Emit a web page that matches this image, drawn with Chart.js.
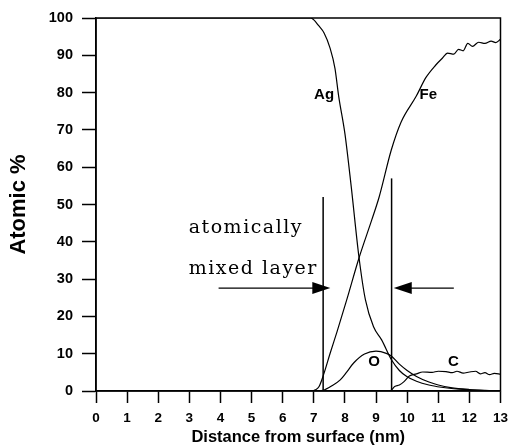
<!DOCTYPE html>
<html>
<head>
<meta charset="utf-8">
<script src="https://cdn.jsdelivr.net/npm/chart.js@4"></script>
<style>
  html, body { margin: 0; padding: 0; background: #fff; }
  #wrap { width: 515px; height: 447px; }
</style>
</head>
<body>
<div id="wrap"><canvas id="c" width="515" height="447"></canvas></div>
<script>
// depth profile (nm, atomic %)
const agX = [0, 1, 2, 3, 4, 5, 6, 6.9, 7.0, 7.15, 7.33, 7.52, 7.68, 7.8, 8.0, 8.2, 8.45, 8.66, 8.92, 9.18, 9.5, 9.75, 10.0, 10.3, 10.7, 11.1, 11.5, 12, 12.5, 13];
const agY = [100, 100, 100, 100, 100, 100, 100, 100, 99.5, 98, 96, 92, 86.5, 79, 69, 55, 36, 24.4, 17.2, 13.7, 8.3, 5.5, 3.8, 2.6, 1.6, 1.0, 0.6, 0.3, 0.1, 0];

const feX = [0, 1, 2, 3, 4, 5, 6, 6.95, 7.05, 7.17, 7.33, 7.52, 7.75, 8.06, 8.45, 8.86, 9.1, 9.49, 9.8, 10.29, 10.6, 10.92, 11.13, 11.3, 11.5, 11.65, 11.8, 11.95, 12.1, 12.3, 12.5, 12.7, 12.85, 13];
const feY = [0, 0, 0, 0, 0, 0, 0, 0, 0.3, 1.2, 4.8, 10, 16, 24.5, 35.6, 45.8, 52, 64.6, 72, 79, 84, 87.4, 89.2, 90.6, 90.3, 91.6, 91.2, 93.2, 92.4, 93.5, 93.2, 93.8, 93.4, 94.3];

const oX = [0, 1, 2, 3, 4, 5, 6, 7.0, 7.3, 7.6, 7.85, 8.05, 8.28, 8.63, 9.0, 9.33, 9.5, 9.75, 10.0, 10.3, 10.7, 11.0, 11.4, 12, 12.5, 13];
const oY = [0, 0, 0, 0, 0, 0, 0, 0, 0.2, 1.5, 3, 5, 7.5, 9.9, 10.7, 10.1, 9.3, 7.2, 5.5, 3.9, 2.4, 1.6, 0.9, 0.4, 0.2, 0.1];

const cX = [0, 1, 2, 3, 4, 5, 6, 7, 8, 9, 9.45, 9.5, 9.6, 9.75, 9.9, 10.07, 10.3, 10.5, 10.8, 11.0, 11.25, 11.45, 11.6, 11.8, 12.0, 12.2, 12.35, 12.5, 12.65, 12.8, 13];
const cY = [0, 0, 0, 0, 0, 0, 0, 0, 0, 0, 0, 0.3, 1.2, 1.6, 2.5, 4.0, 4.6, 5.1, 5.0, 5.3, 5.2, 4.9, 5.3, 4.8, 5.1, 5.3, 4.6, 4.9, 4.4, 4.7, 4.5];

// annotations (data coordinates)
const layerEdges = [7.3, 9.5];
const layerEdgeTops = [52, 57];
const arrowFrom = [3.94, 11.5];
const arrowTo = [7.53, 9.57];
const arrowLevel = 27.6;
const layerText = ["atomically", "mixed layer"];
const layerTextX = 2.98;
const layerTextY = [42.4, 31.4];
const seriesNames = ["Ag", "Fe", "O", "C"];
const nameX = [7.33, 10.68, 8.94, 11.49];
const nameY = [79.4, 79.4, 7.8, 7.8];

const pts = (xs, ys) => xs.map((x, i) => ({ x, y: ys[i] }));

const line = (label, xs, ys) => ({
  label,
  data: pts(xs, ys),
  borderColor: "#000",
  borderWidth: 1.2,
  pointRadius: 0,
  showLine: true,
  fill: false,
  cubicInterpolationMode: "monotone",
});

const annotations = {
  id: "annotations",
  afterDatasetsDraw(chart) {
    const { ctx, chartArea: a, scales: { x, y } } = chart;
    ctx.save();
    ctx.strokeStyle = "#000";
    ctx.fillStyle = "#000";

    // frame
    ctx.lineWidth = 1.5;
    ctx.strokeRect(a.left, a.top, a.right - a.left, a.bottom - a.top);

    // layer edges
    layerEdges.forEach((v, i) => {
      const px = x.getPixelForValue(v);
      ctx.beginPath();
      ctx.moveTo(px, y.getPixelForValue(0));
      ctx.lineTo(px, y.getPixelForValue(layerEdgeTops[i]));
      ctx.stroke();
    });

    // arrows
    const ay = y.getPixelForValue(arrowLevel);
    arrowFrom.forEach((v, i) => {
      const x0 = x.getPixelForValue(v);
      const x1 = x.getPixelForValue(arrowTo[i]);
      const dir = x1 > x0 ? 1 : -1;
      ctx.lineWidth = 1.2;
      ctx.beginPath();
      ctx.moveTo(x0, ay);
      ctx.lineTo(x1 - dir * 10, ay);
      ctx.stroke();
      ctx.beginPath();
      ctx.moveTo(x1, ay);
      ctx.lineTo(x1 - dir * 18, ay - 6);
      ctx.lineTo(x1 - dir * 18, ay + 6);
      ctx.closePath();
      ctx.fill();
    });

    // layer text
    ctx.font = '19px "DejaVu Serif"';
    ctx.letterSpacing = "1.5px";
    ctx.textAlign = "left";
    ctx.textBaseline = "alphabetic";
    layerText.forEach((t, i) => {
      ctx.fillText(t, x.getPixelForValue(layerTextX), y.getPixelForValue(layerTextY[i]));
    });

    // series names
    ctx.letterSpacing = "0px";
    ctx.font = 'bold 15px "Liberation Sans"';
    ctx.textAlign = "center";
    ctx.textBaseline = "middle";
    seriesNames.forEach((t, i) => {
      ctx.fillText(t, x.getPixelForValue(nameX[i]), y.getPixelForValue(nameY[i]));
    });
    ctx.restore();
  },
};

new Chart(document.getElementById("c"), {
  type: "scatter",
  data: {
    datasets: [
      line("Ag", agX, agY),
      line("Fe", feX, feY),
      line("O", oX, oY),
      line("C", cX, cY),
    ],
  },
  options: {
    responsive: false,
    animation: false,
    layout: { padding: { left: 6, top: 18, right: 10, bottom: 0 } },
    plugins: { legend: { display: false }, tooltip: { enabled: false } },
    scales: {
      x: {
        type: "linear",
        min: 0,
        max: 13,
        afterFit: (s) => { s.height = 56; },
        ticks: {
          stepSize: 1, color: "#000", padding: 7, maxRotation: 0,
          font: { family: "Liberation Sans", size: 13.5, weight: "bold" },
        },
        grid: { drawOnChartArea: false, drawTicks: true, tickLength: 12, tickColor: "#000", tickWidth: 1.5 },
        border: { display: true, color: "#000", width: 1.5 },
        title: {
          display: true,
          text: "Distance from surface (nm)",
          color: "#000",
          font: { family: "Liberation Sans", size: 16.5, weight: "bold" },
          padding: { top: 0, bottom: 0 },
        },
      },
      y: {
        min: 0,
        max: 100,
        afterFit: (s) => { s.width = 90; },
        ticks: {
          stepSize: 10, color: "#000", padding: 9,
          font: { family: "Liberation Sans", size: 14.5, weight: "bold" },
        },
        grid: { drawOnChartArea: false, drawTicks: true, tickLength: 14, tickColor: "#000", tickWidth: 1.5 },
        border: { display: true, color: "#000", width: 1.5 },
        title: {
          display: true,
          text: "Atomic %",
          color: "#000",
          font: { family: "Liberation Sans", size: 22, weight: "bold" },
          padding: { top: 0, bottom: 0 },
        },
      },
    },
  },
  plugins: [annotations],
});
</script>
</body>
</html>
